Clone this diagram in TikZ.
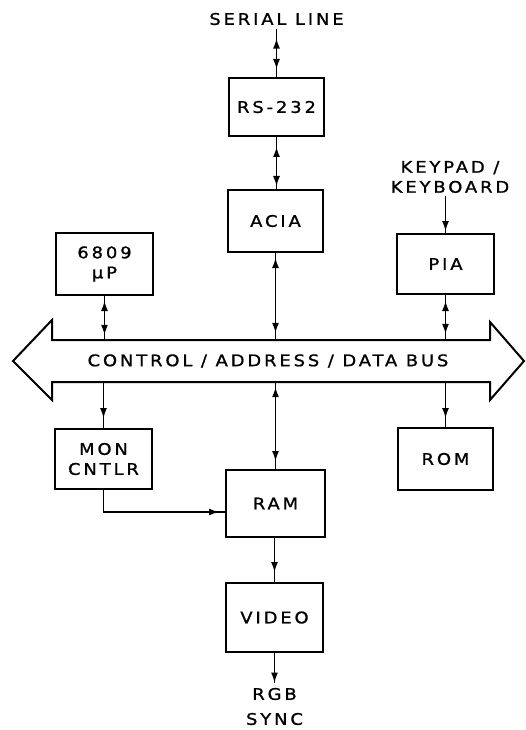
\documentclass[tikz,border=0pt]{standalone}
\usepackage{fontspec}
\setmainfont{DejaVu Sans}[LetterSpace=18, FakeStretch=1.12, FakeBold=1.1]
\usetikzlibrary{arrows.meta,calc,decorations.markings}
\tikzset{
  lettering/.style={font=\fontsize{16}{20}\selectfont, align=center},
  unit/.style={lettering, draw, line width=2pt, inner sep=0pt},
  wire/.style={line width=1.3pt},
  tipshape/.tip={Latex[length=10pt,width=7pt]},
  twoway/.style n args={2}{wire, postaction=decorate, decoration={markings,
      mark=at position #1 with {\arrowreversed{tipshape}},
      mark=at position -#2 with {\arrow{tipshape}}}},
  oneway/.style={wire, postaction=decorate, decoration={markings,
      mark=at position -#1 with {\arrow{tipshape}}}},
}
\begin{document}
\begin{tikzpicture}[x=1pt,y=-1pt]
  \useasboundingbox (0,0) rectangle (526,730);

  % functional blocks
  \node[unit, minimum width=95pt, minimum height=58pt] (rs)    at (276.5,107)   {RS-232};
  \node[unit, minimum width=95pt, minimum height=62pt] (acia)  at (275.5,221)   {ACIA};
  \node[unit, minimum width=97pt, minimum height=62pt] (cpu)   at (104.5,264)   {6809\\µP};
  \node[unit, minimum width=97pt, minimum height=60pt] (pia)   at (445.5,264)   {PIA};
  \node[unit, minimum width=97pt, minimum height=60pt] (mon)   at (103.5,459)   {MON\\CNTLR};
  \node[unit, minimum width=95pt, minimum height=62pt] (rom)   at (445.5,459)   {ROM};
  \node[unit, minimum width=99pt, minimum height=67pt] (ram)   at (275.5,503.5) {RAM};
  \node[unit, minimum width=97pt, minimum height=69pt] (video) at (274.5,617.5) {VIDEO};

  % external signal labels
  \node[lettering] (serial) at (276.5,19)  {SERIAL LINE};
  \node[lettering] (keys)   at (450,177) {KEYPAD /\\KEYBOARD};
  \node[lettering] (rgb)    at (274.5,694) {RGB};
  \node[lettering, inner sep=1pt] (sync) at (274.5,719) {SYNC};
  \coordinate (vout) at (274.5,683);

  % system bus: body plus arrowheads at both ends
  \node[lettering, minimum width=438pt, minimum height=42pt, inner sep=0pt] (bus) at (268,361)
    {CONTROL / ADDRESS / DATA BUS};
  \draw[line width=2pt, line join=miter]
    (13,361) -- (52,320) -- (52,340) -- (490,340) -- (490,322)
    -- (524,361) -- (490,400) -- (490,382) -- (52,382) -- (52,400) -- cycle;

  % serial path
  \draw[twoway={10pt}{8pt}] (serial.south) -- (rs.north);
  \draw[twoway={10pt}{3pt}] (rs.south) -- (rs.south |- acia.north);

  % keyboard input
  \draw[oneway=2pt] (keys.south -| pia.north) -- (pia.north);

  % links above the bus
  \foreach \blk/\a/\b in {cpu/5pt/5pt, acia/5pt/7pt, pia/6pt/6pt} {
    \draw[twoway={\a}{\b}] (\blk.south) -- (\blk.south |- bus.north);
  }

  % links below the bus
  \draw[oneway=10pt] (mon.north |- bus.south) -- (mon.north);
  \draw[oneway=9pt]  (rom.north |- bus.south) -- (rom.north);
  \draw[twoway={5pt}{8pt}] (ram.north |- bus.south) -- (ram.north);

  % monitor controller to RAM
  \draw[oneway=6pt] (mon.south) |- ($(ram.west)+(0,8.5)$);

  % RAM to video, video out
  \draw[oneway=10pt] (ram.south -| video.north) -- (video.north);
  \draw[oneway=0.5pt] (video.south) -- (vout);
\end{tikzpicture}
\end{document}
